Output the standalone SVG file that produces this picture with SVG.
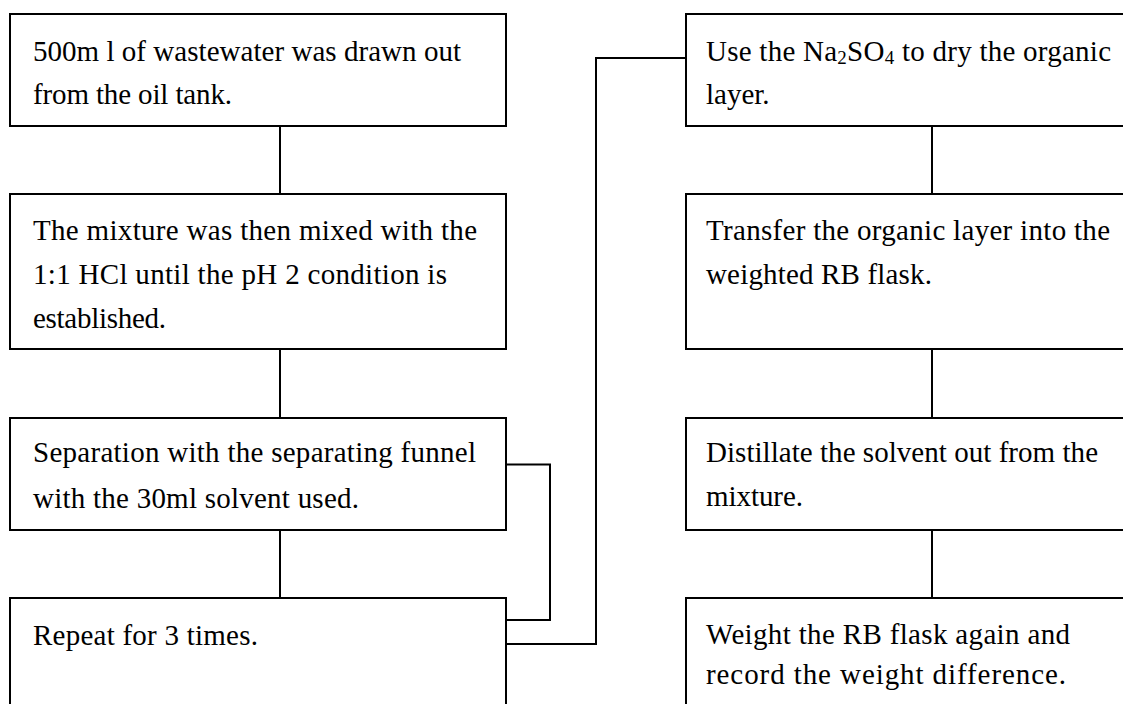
<svg xmlns="http://www.w3.org/2000/svg" width="1123" height="704" viewBox="0 0 1123 704">
<style>
.box{fill:#fff;stroke:#000;stroke-width:2}
.ln{fill:none;stroke:#000;stroke-width:2}
text{font-family:"Liberation Serif","Times New Roman",serif;font-size:29px;fill:#000}
.sub{font-size:19px}
</style>
<rect width="1123" height="704" fill="#fff"/>
<g id="connectors">
<path class="ln" d="M280,126V194M280,349V418M280,530V598"/>
<path class="ln" d="M932,126V194M932,349V418M932,530V598"/>
<path class="ln" d="M506,464.5H550V620H506"/>
<path class="ln" d="M506,644H596V58H686"/>
</g>
<g id="n1">
<rect class="box" x="10" y="14" width="496" height="112"/>
<text x="33" y="61" textLength="428" lengthAdjust="spacing">500m l of wastewater was drawn out</text>
<text x="33" y="104" textLength="199" lengthAdjust="spacing">from the oil tank.</text>
</g>
<g id="n2">
<rect class="box" x="10" y="194" width="496" height="155"/>
<text x="33" y="240" textLength="444" lengthAdjust="spacing">The mixture was then mixed with the</text>
<text x="33" y="284" textLength="414" lengthAdjust="spacing">1:1 HCl until the pH 2 condition is</text>
<text x="33" y="328" textLength="133" lengthAdjust="spacing">established.</text>
</g>
<g id="n3">
<rect class="box" x="10" y="418" width="496" height="112"/>
<text x="33" y="462" textLength="443" lengthAdjust="spacing">Separation with the separating funnel</text>
<text x="33" y="508" textLength="326" lengthAdjust="spacing">with the 30ml solvent used.</text>
</g>
<g id="n4">
<rect class="box" x="10" y="598" width="496" height="130"/>
<text x="33" y="645" textLength="225" lengthAdjust="spacing">Repeat for 3 times.</text>
</g>
<g id="n5">
<rect class="box" x="686" y="14" width="460" height="112"/>
<text x="706" y="61" textLength="405" lengthAdjust="spacing">Use the Na<tspan class="sub" dy="3">2</tspan><tspan dy="-3">SO</tspan><tspan class="sub" dy="3">4</tspan><tspan dy="-3"> to dry the organic</tspan></text>
<text x="706" y="104">layer.</text>
</g>
<g id="n6">
<rect class="box" x="686" y="194" width="460" height="155"/>
<text x="706" y="240" textLength="404" lengthAdjust="spacing">Transfer the organic layer into the</text>
<text x="706" y="284" textLength="226" lengthAdjust="spacing">weighted RB flask.</text>
</g>
<g id="n7">
<rect class="box" x="686" y="418" width="460" height="112"/>
<text x="706" y="462" textLength="392" lengthAdjust="spacing">Distillate the solvent out from the</text>
<text x="706" y="506" textLength="97" lengthAdjust="spacing">mixture.</text>
</g>
<g id="n8">
<rect class="box" x="686" y="598" width="460" height="130"/>
<text x="706" y="644" textLength="364" lengthAdjust="spacing">Weight the RB flask again and</text>
<text x="706" y="684" textLength="360" lengthAdjust="spacing">record the weight difference.</text>
</g>
</svg>
